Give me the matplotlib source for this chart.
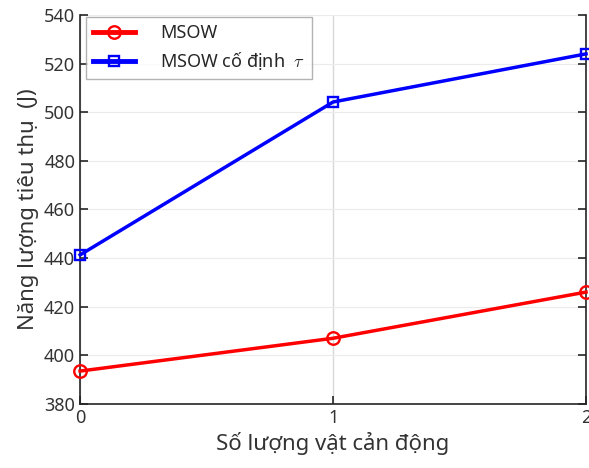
import matplotlib.pyplot as plt

plt.rcParams['font.family'] = ['Noto Sans', 'DejaVu Sans']
plt.rcParams['mathtext.fontset'] = 'cm'

so_vat_can = [0, 1, 2]
msow = [393.5, 407, 426]
msow_co_dinh = [441.3, 504.2, 524]

fig = plt.figure(figsize=(5.89, 4.68), dpi=100)
ax = fig.add_axes([0.136, 0.137, 0.859, 0.831])

ax.plot(so_vat_can, msow, color='red', lw=2.5, marker='o', ms=9,
        mfc='none', mew=1.7, label='MSOW', clip_on=False, zorder=3)
ax.plot(so_vat_can, msow_co_dinh, color='blue', lw=2.5, marker='s', ms=7,
        mfc='none', mew=1.7, label=r'MSOW cố định  $\tau$', clip_on=False, zorder=3)

ax.set_xlim(0, 2)
ax.set_ylim(380, 540)
ax.set_xticks([0, 1, 2])
ax.set_yticks(range(380, 541, 20))

# luoi ngang rat nhat, luoi doc dam hon
ax.yaxis.grid(True, color='#ebebeb', lw=0.8)
ax.xaxis.grid(True, color='#d8d8d8', lw=1.0)
ax.set_axisbelow(True)

ax.spines['top'].set_visible(False)
for s in ['left', 'right', 'bottom']:
    ax.spines[s].set_color('#262626')
    ax.spines[s].set_linewidth(1.2)
ax.tick_params(direction='in', length=6, width=1.2, right=True, top=False,
               labelsize=13, labelcolor='#333333', color='#262626')

ax.set_xlabel('Số lượng vật cản động', fontsize=16, color='#333333')
ax.set_ylabel('Năng lượng tiêu thụ  (J)', fontsize=16, color='#333333')

leg = ax.legend(loc='upper left', bbox_to_anchor=(0.012, 0.995), fontsize=13,
                frameon=True, fancybox=False, edgecolor='#a0a0a0',
                handlelength=2.3, handletextpad=1.4, borderaxespad=0.0,
                labelspacing=0.5, borderpad=0.4)
leg.get_frame().set_linewidth(1.0)
for line in leg.get_lines():
    line.set_linewidth(3.5)
for t in leg.get_texts():
    t.set_color('#262626')

fig.savefig('out.png', dpi=100)
